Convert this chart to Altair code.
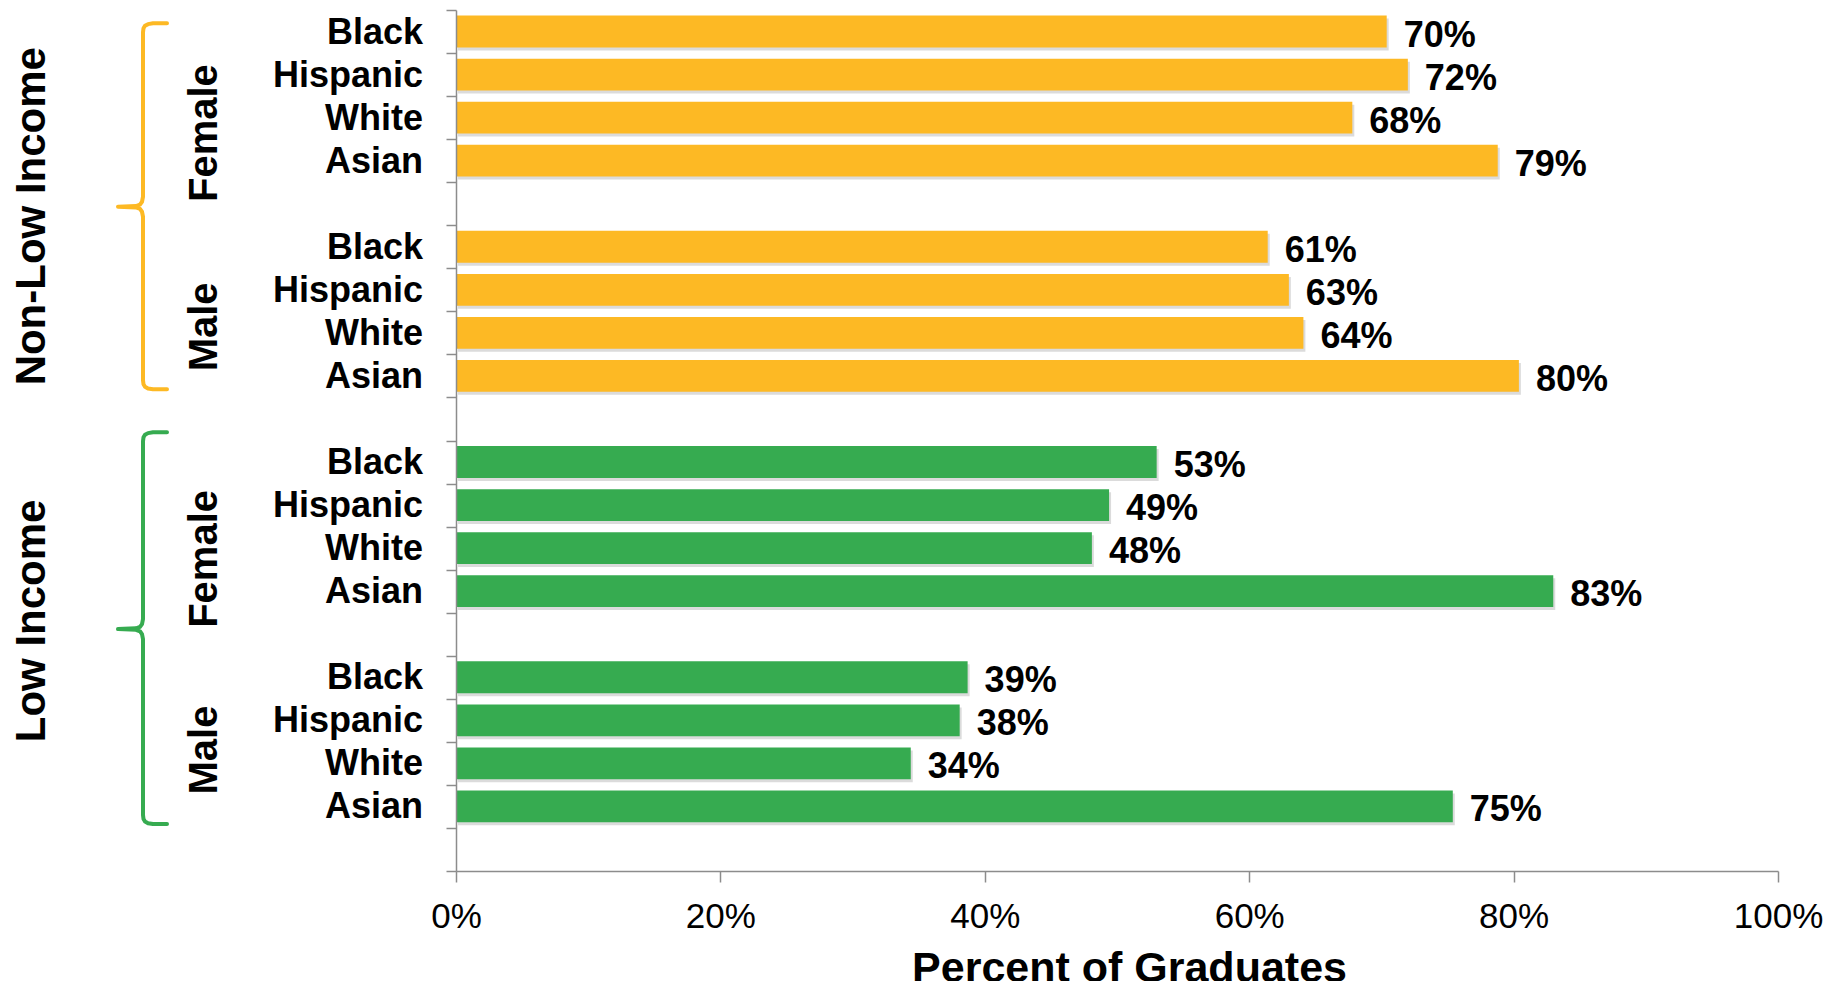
import altair as alt
import pandas as pd

# ---------------- data ----------------
races = ["Black", "Hispanic", "White", "Asian"]
groups = [
    ("Non-Low Income", "Female"),
    ("Non-Low Income", "Male"),
    ("Low Income", "Female"),
    ("Low Income", "Male"),
]
nonlow_female = [70.4, 72.0, 67.8, 78.8]
nonlow_male = [61.4, 63.0, 64.1, 80.4]
low_female = [53.0, 49.4, 48.1, 83.0]
low_male = [38.7, 38.1, 34.4, 75.4]
series = [nonlow_female, nonlow_male, low_female, low_male]

x_ticks = [0, 0.2, 0.4, 0.6, 0.8, 1.0]
income_names = ["Non-Low Income", "Low Income"]
income_colors = ["#FDB924", "#36AB50"]

# positions of the group labels (in category-slot units) and braces
gender_label_pos = [2.86, 7.36, 12.75, 17.19]
income_label_pos = [4.79, 14.19]
brace_anchors = {  # top, tip, bottom (slot units)
    "Non-Low Income": (0.31, 4.57, 8.81),
    "Low Income": (9.81, 14.38, 18.91),
}

N_SLOTS = 20
W, H = 1322, 861
STEP = H / N_SLOTS

# ---------------- tables ----------------
rows = []
for g, (inc, gen) in enumerate(groups):
    for r, race in enumerate(races):
        slot = 5 * g + r
        v = series[g][r]
        rows.append(dict(income=inc, gender=gen, race=race, pct=v / 100.0, base=0.0,
                         label=f"{round(v)}%", lo=slot + 0.13, hi=slot + 0.87,
                         mid=slot + 0.5))
df = pd.DataFrame(rows)

gender_df = pd.DataFrame(dict(text=[g for _, g in groups], y=gender_label_pos))
income_df = pd.DataFrame(dict(text=income_names, y=income_label_pos))

# brace shape: (x px relative to plot left, y px offset from anchor)
top_shape = [(-289, 0), (-303, 0), (-308, 0.8), (-311, 2.5), (-312.5, 5), (-313, 9)]
tip_shape = [(-313, -10), (-314, -5), (-316, -2.2), (-320, -0.7), (-338, 0),
             (-320, 0.7), (-316, 2.2), (-314, 5), (-313, 10)]
bot_shape = [(x, -y) for x, y in reversed(top_shape)]
brace_rows = []
for inc, (t, m, b) in brace_anchors.items():
    i = 0
    for shape, anchor in ((top_shape, t), (tip_shape, m), (bot_shape, b)):
        for x, dy in shape:
            brace_rows.append(dict(income=inc, bx=x, by=anchor + dy / STEP, i=i))
            i += 1
brace_df = pd.DataFrame(brace_rows)

# ---------------- chart ----------------
FONT = "Liberation Sans"
GRAY = "#8c8c8c"

yscale = alt.Scale(domain=[0, N_SLOTS], reverse=True, nice=False, zero=False)
xscale = alt.Scale(domain=[0, 1], nice=False, zero=False)
cscale = alt.Scale(domain=income_names, range=income_colors)
yaxis = alt.Axis(values=list(range(N_SLOTS + 1)), labels=False, tickSize=10,
                 tickColor=GRAY, tickWidth=1.5, domainColor=GRAY, zindex=1,
                 domainWidth=1.5, grid=False, title=None)


def Y(field):
    return alt.Y(field, scale=yscale, axis=yaxis)


shadow = alt.Chart(df).mark_bar(color="#000000", opacity=0.14, xOffset=2, x2Offset=2,
                                yOffset=3, y2Offset=3).encode(
    x=alt.X("pct:Q", scale=xscale, axis=None),
    x2="base:Q",
    y=Y("lo:Q"),
    y2="hi:Q",
)

bars = alt.Chart(df).mark_bar().encode(
    x=alt.X("pct:Q", scale=xscale,
            axis=alt.Axis(values=x_ticks, format=".0%", labelFlush=False,
                          labelFontSize=35, labelColor="#000000", labelFont=FONT,
                          labelPadding=17, tickSize=11, tickColor=GRAY, tickWidth=1.5,
                          domainColor=GRAY, domainWidth=1.5, grid=False, zindex=1,
                          title="Percent of Graduates", titleFontSize=43,
                          titleFontWeight="bold", titleFont=FONT, titleColor="#000000",
                          titlePadding=13, titleX=673)),
    x2="base:Q",
    y=Y("lo:Q"),
    y2="hi:Q",
    color=alt.Color("income:N", scale=cscale, legend=None),
)

values = alt.Chart(df).mark_text(align="left", baseline="middle", dx=17, dy=4,
                                 fontSize=36, fontWeight="bold", font=FONT,
                                 color="#000000").encode(
    x=alt.X("pct:Q", scale=xscale, axis=None),
    y=Y("mid:Q"),
    text="label:N",
)

cat_labels = alt.Chart(df).mark_text(align="right", baseline="middle", dy=1,
                                     fontSize=36, fontWeight="bold", font=FONT,
                                     color="#000000").encode(
    x=alt.value(-33),
    y=Y("mid:Q"),
    text="race:N",
)

gender_labels = alt.Chart(gender_df).mark_text(align="center", baseline="middle",
                                               angle=270, fontSize=40, fontWeight="bold",
                                               font=FONT, color="#000000").encode(
    x=alt.value(-251),
    y=Y("y:Q"),
    text="text:N",
)

income_labels = alt.Chart(income_df).mark_text(align="center", baseline="middle",
                                               angle=270, fontSize=42, fontWeight="bold",
                                               font=FONT, color="#000000").encode(
    x=alt.value(-424),
    y=Y("y:Q"),
    text="text:N",
)

braces = alt.Chart(brace_df).mark_line(strokeWidth=4, strokeCap="round",
                                       strokeJoin="round").encode(
    x=alt.X("bx:Q", scale=alt.Scale(domain=[-400, 0], range=[-400, 0], nice=False,
                                    zero=False), axis=None),
    y=Y("by:Q"),
    order="i:Q",
    detail="income:N",
    color=alt.Color("income:N", scale=cscale, legend=None),
)

chart = alt.layer(
    shadow, bars, values, cat_labels, gender_labels, income_labels, braces
).resolve_scale(x="independent").properties(
    width=W, height=H,
    autosize=alt.AutoSizeParams(type="none"),
    padding={"left": 448, "top": 2, "right": 45, "bottom": 110},
).configure(font=FONT).configure_view(stroke=None)

chart.save("out.html", embed_options={"renderer": "svg", "actions": False})
